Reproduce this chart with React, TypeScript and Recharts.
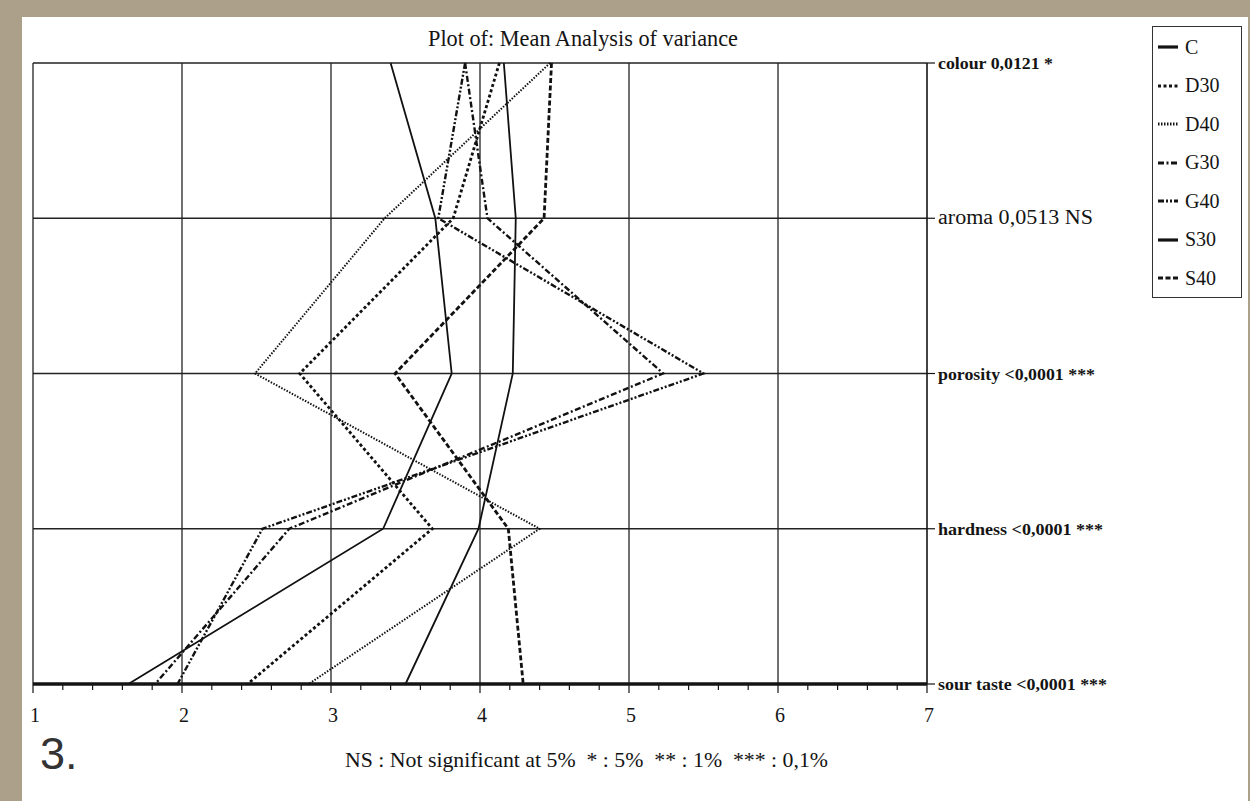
import React from "react";
import { LineChart, Line, XAxis, YAxis, CartesianGrid, ReferenceLine } from "recharts";

// attributes (top to bottom) with their ANOVA p-values
const attributes = [
  "colour 0,0121 *",
  "aroma 0,0513 NS",
  "porosity <0,0001 ***",
  "hardness <0,0001 ***",
  "sour taste <0,0001 ***",
];
const attrBold = [true, false, true, true, true];
const attrWidth = [115, 155, 157, 165, 169];

// mean scores per sample, same order as attributes
const C = [3.4, 3.7, 3.81, 3.35, 1.64];
const D30 = [4.13, 3.82, 2.79, 3.68, 2.44];
const D40 = [4.47, 3.36, 2.49, 4.4, 2.85];
const G30 = [3.9, 4.05, 5.23, 2.72, 1.82];
const G40 = [3.9, 3.72, 5.5, 2.54, 1.97];
const S30 = [4.16, 4.24, 4.22, 3.99, 3.5];
const S40 = [4.48, 4.43, 3.43, 4.19, 4.29];

const majorTicks = [1, 2, 3, 4, 5, 6, 7];

const SERIES = [
  { key: "C", values: C, dash: undefined, width: 1.8 },
  { key: "D30", values: D30, dash: "3 2.5", width: 2.8 },
  { key: "D40", values: D40, dash: "1.5 1.5", width: 2 },
  { key: "G30", values: G30, dash: "6 2.5 2 2.5", width: 2.4 },
  { key: "G40", values: G40, dash: "6 2 2 2 2 2", width: 2.4 },
  { key: "S30", values: S30, dash: undefined, width: 1.8 },
  { key: "S40", values: S40, dash: "5 2.5", width: 2.8 },
];

const data = attributes.map((label, i) => {
  const row: Record<string, number | string> = { idx: i, label };
  SERIES.forEach((s) => (row[s.key] = s.values[i]));
  return row;
});

// minor ticks every 0.2 between the integer ticks
const allTicks: number[] = [];
majorTicks.forEach((t, i) => {
  allTicks.push(t);
  if (i < majorTicks.length - 1) for (let k = 1; k < 5; k++) allTicks.push(+(t + k * 0.2).toFixed(1));
});

const SERIF = "Liberation Serif, DejaVu Serif, serif";
const INK = "#141414";

function XTick({ x, y, payload }: any) {
  const major = Number.isInteger(payload.value);
  return (
    <g>
      <line x1={x} x2={x} y1={y} y2={y + (major ? 9 : 6)} stroke={INK} strokeWidth={1.2} />
      {major && (
        <text x={x + 2} y={y + 38} textAnchor="middle" style={{ fontFamily: SERIF }} fontSize={20} fill={INK}>
          {payload.value}
        </text>
      )}
    </g>
  );
}

function YTick({ x, y, payload }: any) {
  const i = payload.value as number;
  return (
    <text
      x={x}
      y={y + 6}
      style={{ fontFamily: SERIF }}
      fontSize={attrBold[i] ? 17 : 20}
      fontWeight={attrBold[i] ? "bold" : "normal"}
      fill={INK}
      textLength={attrWidth[i]}
      lengthAdjust="spacingAndGlyphs"
    >
      {attributes[i]}
    </text>
  );
}

function LegendBox() {
  return (
    <div
      style={{
        position: "absolute",
        left: 1152,
        top: 26,
        width: 88,
        height: 270,
        border: "1px solid #333",
        background: "#fff",
        fontFamily: SERIF,
      }}
    >
      {SERIES.map((s, i) => (
        <div
          key={s.key}
          style={{ position: "absolute", left: 5, top: 8 + i * 38.5, height: 24, display: "flex", alignItems: "center" }}
        >
          <svg width={20} height={10}>
            <line x1={0} x2={20} y1={5} y2={5} stroke={INK} strokeWidth={3.2} strokeDasharray={s.dash} />
          </svg>
          <span style={{ fontSize: 20, marginLeft: 7, color: INK }}>{s.key}</span>
        </div>
      ))}
    </div>
  );
}

export default function App() {
  return (
    <div style={{ position: "absolute", left: 0, top: 0, width: 1250, height: 801, background: "#ADA08B" }}>
      <div style={{ position: "absolute", left: 22, top: 17, width: 1226, height: 784, background: "#fff" }} />
      <div style={{ position: "absolute", left: 0, top: 0 }}>
        <LineChart
          width={1250}
          height={801}
          data={data}
          layout="vertical"
          margin={{ top: 63, left: 33, right: 123, bottom: 77 }}
        >
          <CartesianGrid vertical={false} stroke="#222" strokeWidth={1.4} />
          {majorTicks.slice(0, -1).map((t) => (
            <ReferenceLine key={t} x={t} stroke="#222" strokeWidth={1.3} />
          ))}
          <XAxis
            type="number"
            domain={[1, 7]}
            ticks={allTicks}
            interval={0}
            height={40}
            tickSize={0}
            tickMargin={0}
            tickLine={false}
            axisLine={{ stroke: INK, strokeWidth: 3.5 }}
            tick={<XTick />}
          />
          <YAxis
            type="number"
            dataKey="idx"
            domain={[0, 4]}
            ticks={[0, 1, 2, 3, 4]}
            orientation="right"
            width={200}
            interval={0}
            tickSize={8}
            tickMargin={3}
            axisLine={{ stroke: INK, strokeWidth: 1.6 }}
            tickLine={{ stroke: INK, strokeWidth: 1.2 }}
            tick={<YTick />}
          />
          {SERIES.map((s) => (
            <Line
              key={s.key}
              dataKey={s.key}
              stroke="#111"
              strokeWidth={s.width}
              strokeDasharray={s.dash}
              dot={false}
              isAnimationActive={false}
            />
          ))}
        </LineChart>
      </div>
      <svg width={1250} height={801} style={{ position: "absolute", left: 0, top: 0, pointerEvents: "none" }}>
        <text x={583} y={46} textAnchor="middle" style={{ fontFamily: SERIF }} fontSize={23} fill={INK} textLength={310} lengthAdjust="spacingAndGlyphs">
          Plot of: Mean Analysis of variance
        </text>
        <text x={345} y={767} style={{ fontFamily: SERIF, whiteSpace: "pre" }} fontSize={21} fill={INK} textLength={483} lengthAdjust="spacingAndGlyphs">
          NS : Not significant at 5%  * : 5%  ** : 1%  *** : 0,1%
        </text>
        <text x={40} y={769} style={{ fontFamily: "Liberation Sans, Arial, sans-serif" }} fontSize={45} fill="#333">
          3.
        </text>
      </svg>
      <LegendBox />
    </div>
  );
}
